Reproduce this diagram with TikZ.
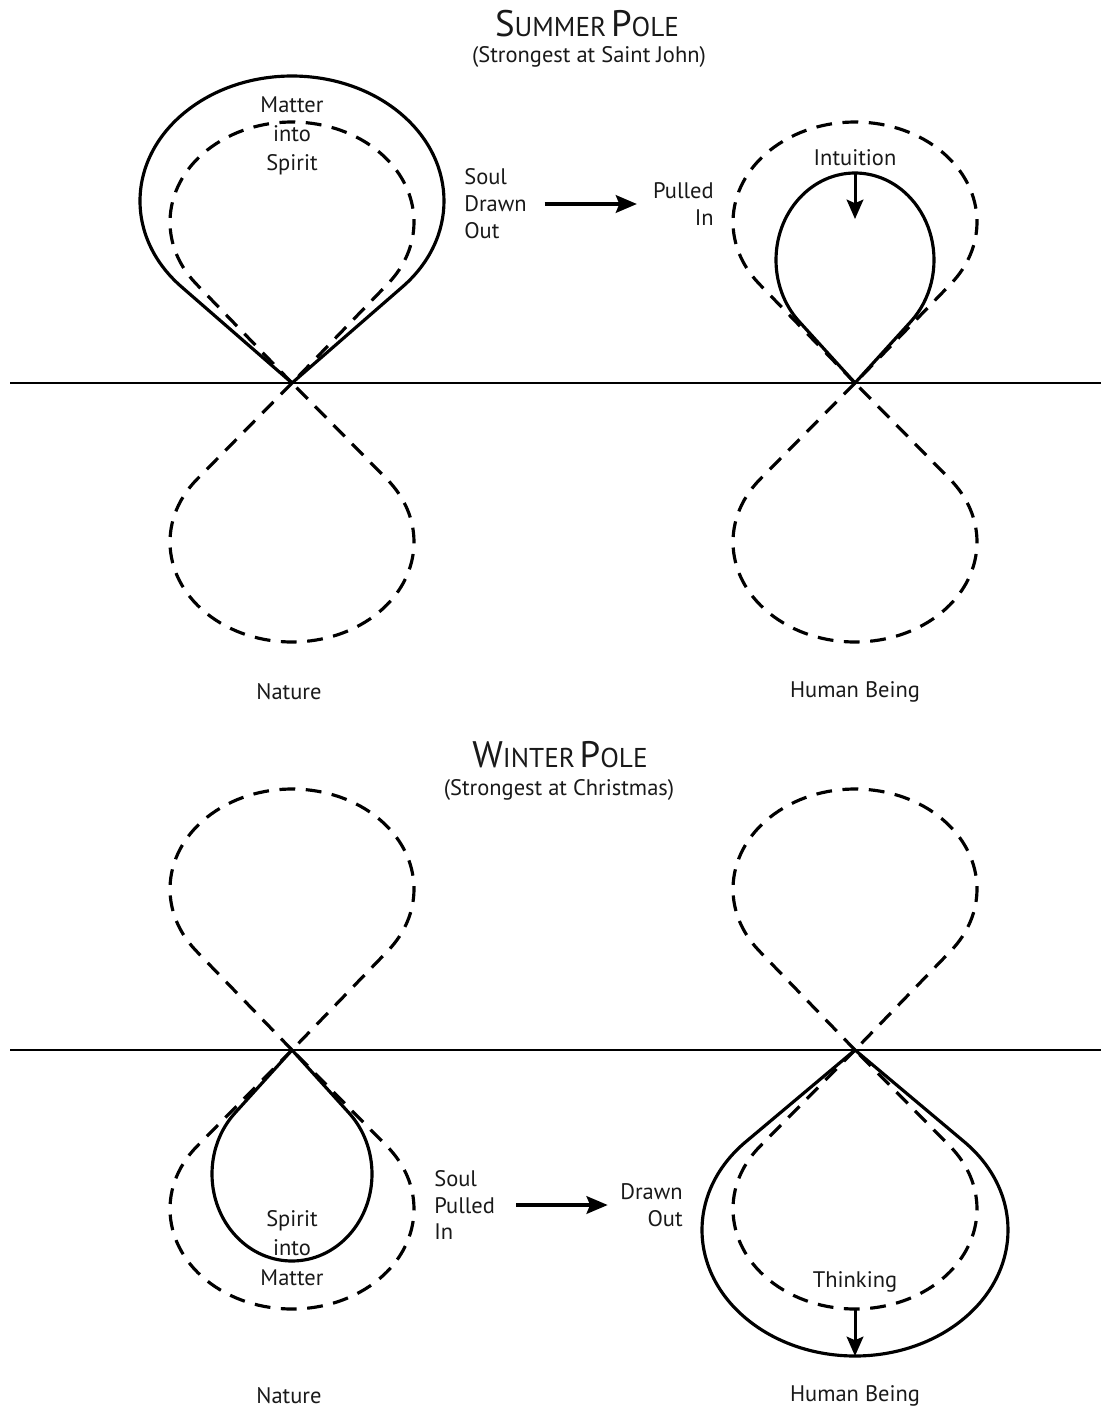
\documentclass[tikz,border=0pt]{standalone}
\usepackage{fontspec}
\setmainfont{PT Sans}
\usepackage{tikz}
\usetikzlibrary{arrows.meta,positioning}

% teardrop loop: vertex at the path origin, elliptic bulb
% #2 half width, #3 half height of the bulb, #4 vertex to bulb centre, #5 = 1 up, -1 down
\newcommand\teardrop[5][]{%
	\pgfmathsetmacro\tdang{asin(#3/#4)}%
	\pgfmathsetmacro\tdx{#2*cos(\tdang)}%
	\pgfmathsetmacro\tdy{#5*(#4-#3*sin(\tdang))}%
	\pgfmathsetmacro\tdstart{180+#5*\tdang}%
	\pgfmathsetmacro\tdend{\tdstart-#5*(180+2*\tdang)}%
	\draw[#1] (0,0) -- (-\tdx,\tdy)
	arc[start angle=\tdstart, end angle=\tdend, x radius=#2, y radius=#3] -- cycle;}
\newcommand\polecaps[2]{{\fontsize{21}{24}\selectfont #1}{\fontsize{15.5}{18}\selectfont #2}}

\begin{document}
\begin{tikzpicture}
	[x=0.02cm, y=0.02cm, line join=round,
		% STYLES
		% solid and dashed loops
		solidrim/.style={line width=1.8pt},
		dashrim/.style={line width=1.8pt, dash pattern=on 9pt off 6pt},
		% the horizon
		ground/.style={line width=1.1pt},
		% arrows
		bigarrow/.style={line width=2pt, -{Stealth[length=12pt,width=10pt,inset=2pt]}},
		downarrow/.style={line width=1.7pt, -{Stealth[length=11pt,width=9.5pt,inset=2pt]}},
		words/.style={font=\fontsize{12.8}{15.3}\selectfont, inner sep=0pt, align=center, text=black!90},
		% the text inside the loops is set a little looser
		inwords/.style={words, font=\fontsize{12.8}{16.6}\selectfont}]

	\useasboundingbox (0,0) rectangle (1101,-1409);

	% Titles
	\node[anchor=base, text=black!90] (sumhead) at (587,-37) {\polecaps{S}{UMMER} \polecaps{P}{OLE}};
	\node[words, anchor=base] (sumsub) at (589,-63) {(Strongest at Saint John)};
	\node[anchor=base, text=black!90] (winhead) at (560,-767) {\polecaps{W}{INTER} \polecaps{P}{OLE}};
	\node[words, anchor=base] (winsub) at (559,-795) {(Strongest at Christmas)};

	% Horizons
	\coordinate (gl1) at (10,-383);
	\coordinate (gr1) at (1101,-383);
	\coordinate (gl2) at (10,-1050);
	\coordinate (gr2) at (1101,-1050);
	\draw[ground] (gl1) -- (gr1);
	\draw[ground] (gl2) -- (gr2);

	%%%%%%%%%%%%%%%
	% SUMMER

	% Nature
	\teardrop[solidrim, shift={(292,-383)}]{152}{125}{182}{1}
	\teardrop[dashrim, shift={(292,-383)}]{122}{100}{161}{1}
	\teardrop[dashrim, shift={(292,-383)}]{122}{100}{159}{-1}

	% Human Being
	\teardrop[dashrim, shift={(855,-383)}]{122}{100}{161}{1}
	\teardrop[dashrim, shift={(855,-383)}]{122}{100}{159}{-1}
	\teardrop[solidrim, shift={(855,-383)}]{79}{87}{123}{1}

	\node[inwords] (mis) at (292,-136) {Matter\\into\\Spirit};
	\node[words, anchor=west, align=left] (soulA) at (464,-204) {Soul\\Drawn\\Out};
	\node[words, anchor=east, align=right] (pullA) at (714,-204) {Pulled\\In};
	\node[words] (intu) at (855,-158) {Intuition};
	\node[words] (natA) at (289,-692) {Nature};
	\node[words] (humA) at (855,-692) {Human Being};

	\coordinate (intop) at (855,-173);
	\coordinate (intip) at (855,-219);

	\draw[bigarrow, shorten <=10pt, shorten >=9pt] (soulA) -- (pullA);
	\draw[downarrow] (intop) -- (intip);

	%%%%%%%%%%%%%%%
	% WINTER

	% Nature
	\teardrop[dashrim, shift={(292,-1050)}]{122}{100}{161}{1}
	\teardrop[dashrim, shift={(292,-1050)}]{122}{100}{159}{-1}
	\teardrop[solidrim, shift={(292,-1050)}]{80}{87}{124}{-1}

	% Human Being
	\teardrop[dashrim, shift={(855,-1050)}]{122}{100}{161}{1}
	\teardrop[dashrim, shift={(855,-1050)}]{122}{100}{159}{-1}
	\teardrop[solidrim, shift={(855,-1050)}]{153}{126}{180}{-1}

	\node[inwords] (sim) at (292,-1248) {Spirit\\into\\Matter};
	\node[words, anchor=west, align=left] (soulB) at (434,-1205) {Soul\\Pulled\\In};
	\node[words, anchor=east, align=right] (drawnB) at (683,-1205) {Drawn\\Out};
	\node[words] (think) at (855,-1282) {Thinking};
	\node[words] (natB) at (289,-1396) {Nature};
	\node[words] (humB) at (855,-1396) {Human Being};

	\coordinate (thtop) at (855,-1310);
	\coordinate (thtip) at (855,-1356);

	\draw[bigarrow, shorten <=12pt, shorten >=7pt] (soulB) -- (drawnB);
	\draw[downarrow] (thtop) -- (thtip);

\end{tikzpicture}
\end{document}
